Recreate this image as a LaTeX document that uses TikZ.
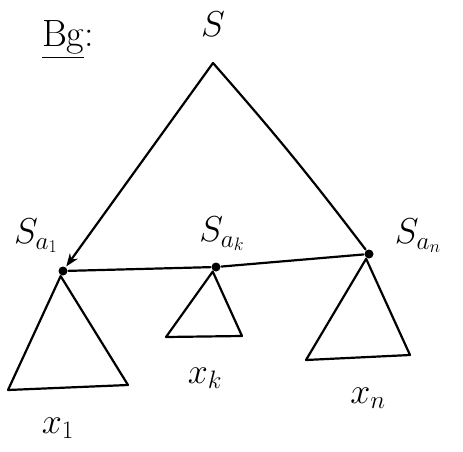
\RequirePackage{fix-cm}
\documentclass[tikz,border=0pt]{standalone}
\usepackage{amsmath}
\usepackage{fontspec}
\usetikzlibrary{arrows.meta}

\begin{document}
\begin{tikzpicture}[x=1pt, y=-1pt, >=Stealth, line width=2.2pt, line cap=round, line join=round,
		dot/.style={circle, fill, inner sep=0pt, minimum size=9pt},
		lbl/.style={font=\fontsize{38}{42}\selectfont},
		sub/.style={font=\fontsize{36}{40}\selectfont}]
		\useasboundingbox (0,0) rectangle (463,452);
		% heading
		\node[lbl] (head) at (68,40) {\underline{Bg}:};
		% root
		\node[sub] (s) at (213,24) {$S$};
		\coordinate (top) at (213,63);
		% the three children on one line
		\node[dot] (a1) at (63,271) {};
		\node[dot] (ak) at (216,267) {};
		\node[dot] (an) at (369,254) {};
		\node[sub] (la1) at (36,236) {$S_{a_1}$};
		\node[sub] (lak) at (222,234) {$S_{a_k}$};
		\node[sub] (lan) at (418,236) {$S_{a_n}$};
		\draw[->] (top) -- (a1);
		\draw (top) to[bend left=2] (an);
		\draw (a1) -- (ak) -- (an);
		% subtrees
		\coordinate (b1l) at (8,390);
		\coordinate (b1r) at (128,385);
		\coordinate (bkl) at (166,337);
		\coordinate (bkr) at (242,336);
		\coordinate (bnl) at (306,360);
		\coordinate (bnr) at (410,355);
		\draw (a1) -- (b1l) -- (b1r) -- cycle;
		\draw (ak) -- (bkl) -- (bkr) -- cycle;
		\draw (an) -- (bnl) -- (bnr) -- cycle;
		\node[sub] (x1) at (58,428) {$x_1$};
		\node[sub] (xk) at (205,378) {$x_k$};
		\node[sub] (xn) at (368,398) {$x_n$};
	\end{tikzpicture}
\end{document}
